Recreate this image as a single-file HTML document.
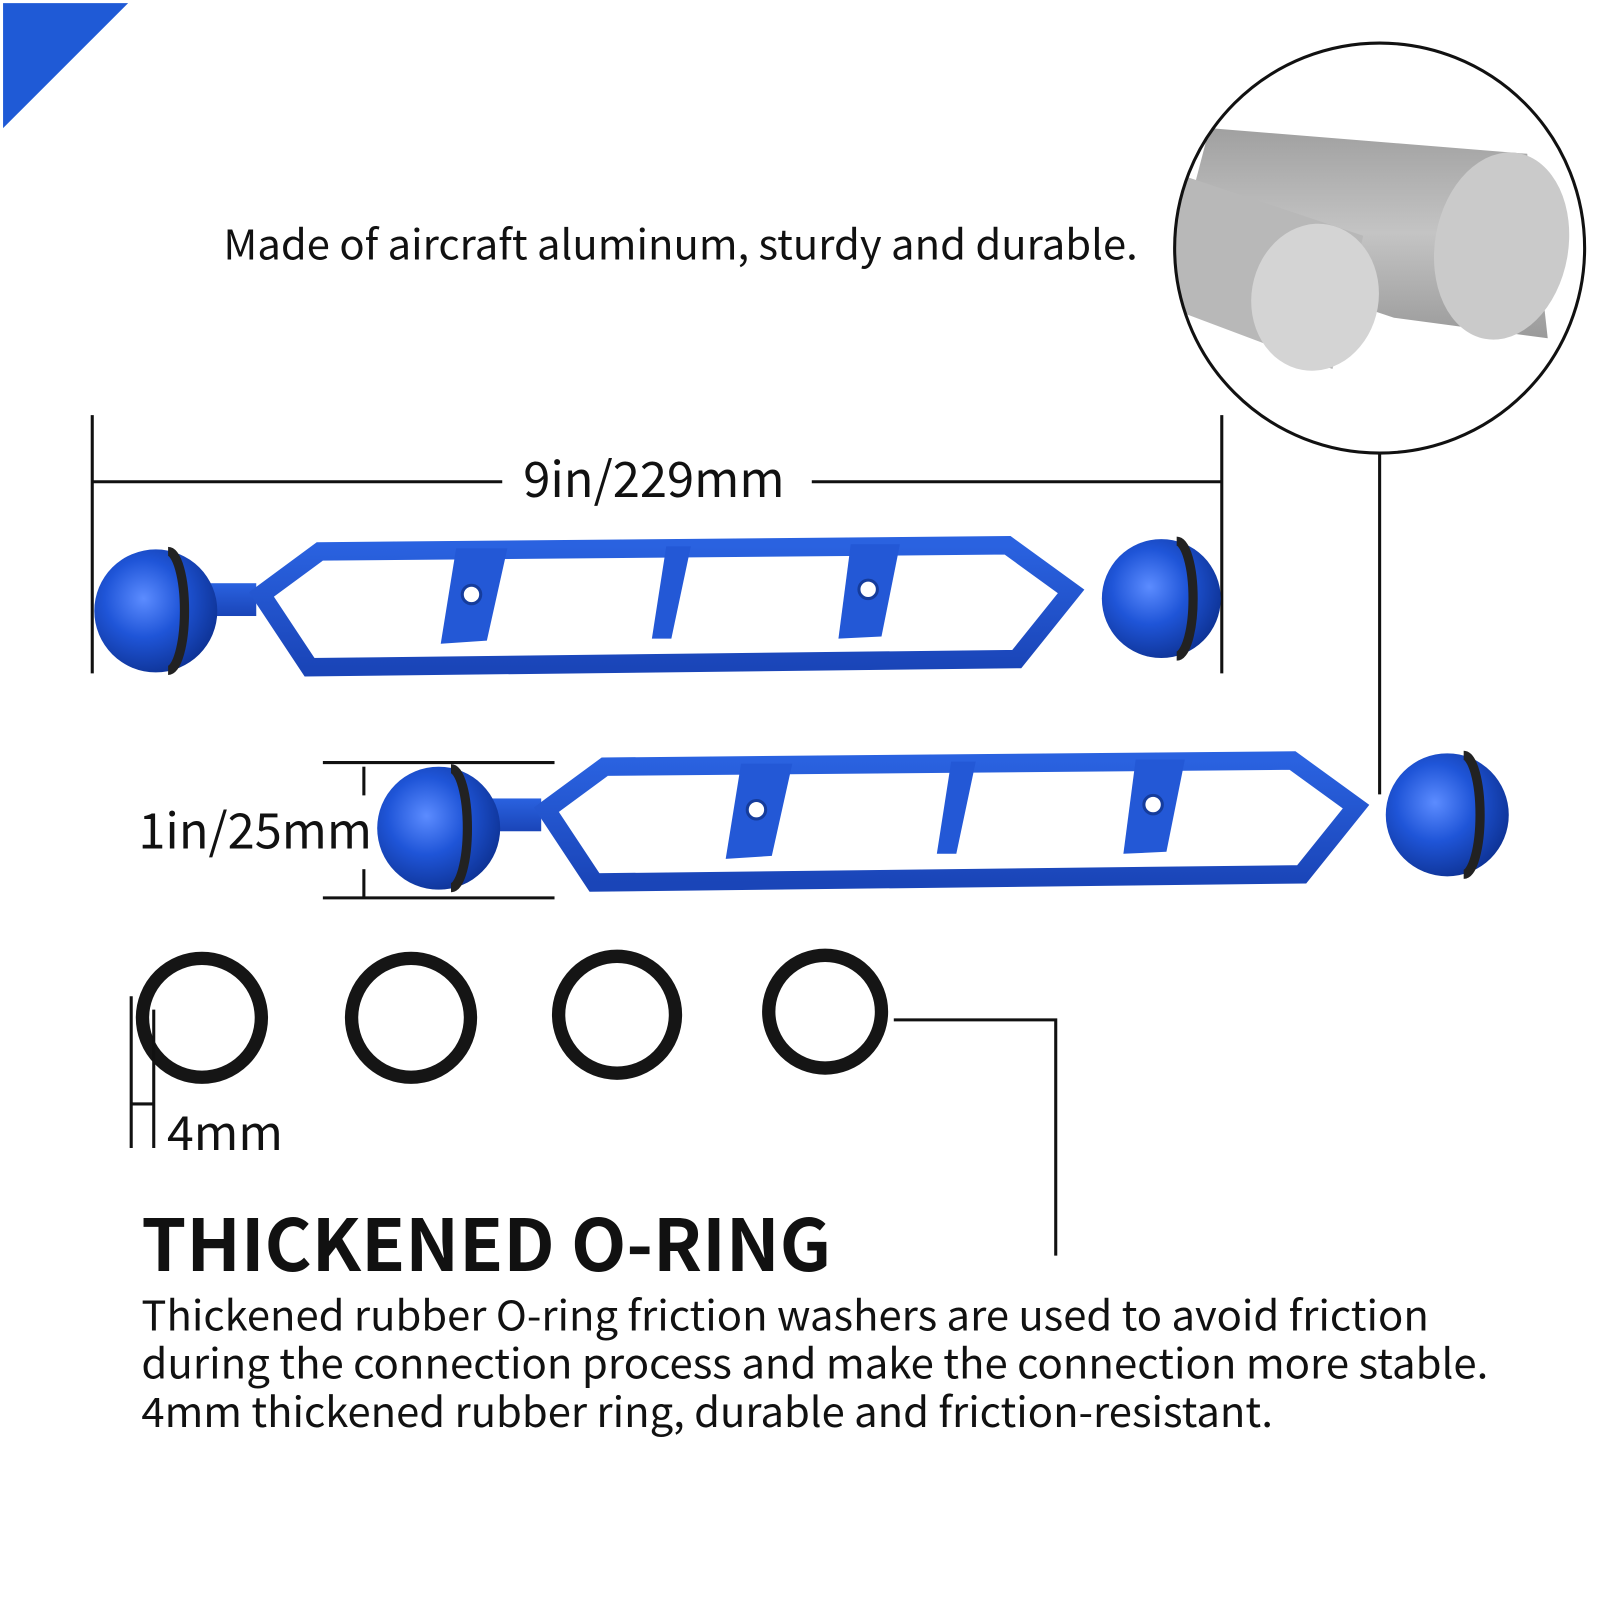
<!DOCTYPE html>
<html><head><meta charset="utf-8"><style>
html,body{margin:0;padding:0;background:#fff}
svg{display:block}
text{font-family:"Noto Sans CJK SC","Liberation Sans",sans-serif;fill:#111}
</style></head><body>
<svg width="1600" height="1600" viewBox="0 0 1561 1561" xmlns="http://www.w3.org/2000/svg">
<defs>
<radialGradient id="ball" cx="0.4" cy="0.4" r="0.7">
<stop offset="0" stop-color="#5c8cff"/><stop offset="0.45" stop-color="#1f55d8"/><stop offset="1" stop-color="#0b2d8a"/>
</radialGradient>
<linearGradient id="bar" x1="0" y1="0" x2="0" y2="1">
<stop offset="0" stop-color="#2a62e0"/><stop offset="1" stop-color="#1a45b8"/>
</linearGradient>
<linearGradient id="rod" x1="0" y1="0" x2="0" y2="1">
<stop offset="0" stop-color="#a0a0a0"/><stop offset="0.5" stop-color="#c4c4c4"/><stop offset="1" stop-color="#9a9a9a"/>
</linearGradient>
<clipPath id="cc"><circle cx="1346" cy="242" r="200"/></clipPath>
<g id="barshape">
<rect x="-60" y="-16" width="60" height="32" fill="url(#bar)"/>
<polygon points="5,-5 62,-47 733,-53 795,-8 742,58 52,66" fill="none" stroke="url(#bar)" stroke-width="18" stroke-linejoin="miter"/>
<polygon points="195,-50 245,-50 225,40 180,43" fill="#2358d6"/>
<polygon points="400,-52 424,-52 405,38 386,38" fill="#2358d6"/>
<polygon points="580,-54 628,-54 610,36 568,38" fill="#2358d6"/>
<circle cx="210" cy="-5" r="9" fill="#fff" stroke="#153c9c" stroke-width="3"/>
<circle cx="597" cy="-10" r="9" fill="#fff" stroke="#153c9c" stroke-width="3"/>
</g>
</defs>

<polygon points="3,3 125,3 3,125" fill="#1f5ad6"/>

<text x="218" y="253" font-size="40" textLength="892" lengthAdjust="spacingAndGlyphs">Made of aircraft aluminum, sturdy and durable.</text>

<g clip-path="url(#cc)">
<rect x="1140" y="40" width="420" height="410" fill="#fff"/>
<polygon points="1180,125 1490,150 1510,330 1360,310 1150,240" fill="url(#rod)"/>
<polygon points="1150,170 1330,230 1300,360 1140,300" fill="#b8b8b8"/>
<ellipse cx="1465" cy="240" rx="65" ry="92" fill="#cacaca" transform="rotate(10 1465 240)"/>
<ellipse cx="1283" cy="290" rx="62" ry="72" fill="#d4d4d4" transform="rotate(10 1283 290)"/>
</g>
<circle cx="1346" cy="242" r="200" fill="none" stroke="#111" stroke-width="3"/>
<line x1="1346" y1="443" x2="1346" y2="775" stroke="#111" stroke-width="3"/>

<line x1="90" y1="405" x2="90" y2="657" stroke="#111" stroke-width="3"/>
<line x1="1192" y1="405" x2="1192" y2="657" stroke="#111" stroke-width="3"/>
<line x1="90" y1="470" x2="490" y2="470" stroke="#111" stroke-width="3"/>
<line x1="792" y1="470" x2="1192" y2="470" stroke="#111" stroke-width="3"/>
<text x="638" y="485" font-size="48" text-anchor="middle" textLength="255" lengthAdjust="spacingAndGlyphs">9in/229mm</text>

<use href="#barshape" x="250" y="585"/>
<circle cx="152" cy="596" r="60" fill="url(#ball)"/>
<path d="M164,538 A16,58 0 0 1 164,654" fill="none" stroke="#222" stroke-width="9"/>
<circle cx="1133" cy="584" r="58" fill="url(#ball)"/>
<path d="M1148,528 A16,56 0 0 1 1148,640" fill="none" stroke="#222" stroke-width="9"/>

<use href="#barshape" x="528" y="795"/>
<circle cx="428" cy="808" r="60" fill="url(#ball)"/>
<path d="M440,750 A16,58 0 0 1 440,866" fill="none" stroke="#222" stroke-width="9"/>
<circle cx="1412" cy="795" r="60" fill="url(#ball)"/>
<path d="M1428,737 A16,58 0 0 1 1428,853" fill="none" stroke="#222" stroke-width="9"/>

<line x1="315" y1="744" x2="541" y2="744" stroke="#111" stroke-width="3"/>
<line x1="315" y1="876" x2="541" y2="876" stroke="#111" stroke-width="3"/>
<line x1="355" y1="748" x2="355" y2="776" stroke="#111" stroke-width="3"/>
<line x1="355" y1="848" x2="355" y2="876" stroke="#111" stroke-width="3"/>
<text x="135" y="828" font-size="48" textLength="228" lengthAdjust="spacingAndGlyphs">1in/25mm</text>

<g fill="none" stroke="#151515" stroke-width="13">
<circle cx="197" cy="993" r="58"/>
<circle cx="401" cy="993" r="58"/>
<circle cx="602" cy="990" r="57"/>
<circle cx="805" cy="987" r="55"/>
</g>
<polyline points="872,995 1030,995 1030,1225" fill="none" stroke="#111" stroke-width="3"/>

<line x1="128" y1="972" x2="128" y2="1120" stroke="#111" stroke-width="3"/>
<line x1="150" y1="985" x2="150" y2="1120" stroke="#111" stroke-width="3"/>
<line x1="128" y1="1077" x2="150" y2="1077" stroke="#111" stroke-width="3"/>
<text x="163" y="1122" font-size="46" textLength="113" lengthAdjust="spacingAndGlyphs">4mm</text>

<text x="138" y="1240" font-size="70" font-weight="bold" textLength="673" lengthAdjust="spacingAndGlyphs">THICKENED O-RING</text>
<text x="138" y="1298" font-size="40" textLength="1256" lengthAdjust="spacingAndGlyphs">Thickened rubber O-ring friction washers are used to avoid friction</text>
<text x="138" y="1345" font-size="40" textLength="1314" lengthAdjust="spacingAndGlyphs">during the connection process and make the connection more stable.</text>
<text x="138" y="1392" font-size="40" textLength="1104" lengthAdjust="spacingAndGlyphs">4mm thickened rubber ring, durable and friction-resistant.</text>
</svg>
</body></html>
